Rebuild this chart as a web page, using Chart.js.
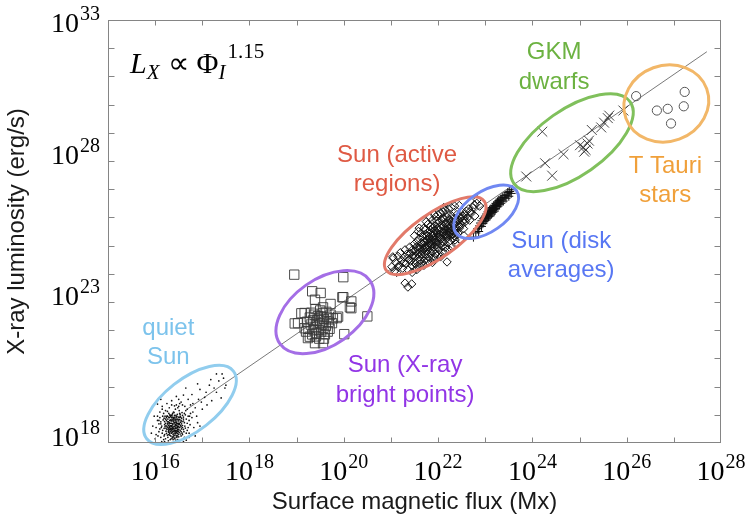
<!DOCTYPE html>
<html>
<head>
<meta charset="utf-8">
<script src="https://cdn.jsdelivr.net/npm/chart.js@4.4.1/dist/chart.umd.min.js"></script>
<style>
  html, body { margin: 0; padding: 0; background: #fff; }
  #wrap { width: 752px; height: 522px; }
</style>
</head>
<body>
<div id="wrap"><canvas id="c" width="752" height="522"></canvas></div>
<script>
// All values are log10: [log10 flux (Mx), log10 Lx (erg/s)]
const quietSun = [
  [16.41,18.72],[16.35,18.60],[16.48,18.85],[16.29,18.44],[16.52,18.55],[16.38,18.91],[16.44,18.33],[16.22,18.70],
  [16.60,18.78],[16.33,18.25],[16.47,19.02],[16.26,18.95],[16.55,18.40],[16.40,18.50],[16.31,18.80],[16.58,18.98],
  [16.19,18.52],[16.45,18.63],[16.36,18.38],[16.50,18.70],[16.28,18.62],[16.42,18.86],[16.34,18.15],[16.63,18.60],
  [16.24,18.34],[16.46,18.20],[16.39,19.10],[16.56,18.88],[16.17,18.82],[16.30,18.55],[16.43,18.45],[16.51,19.15],
  [16.27,18.20],[16.66,18.85],[16.37,18.68],[16.21,18.95],[16.49,18.30],[16.32,18.98],[16.60,18.48],[16.14,18.60],
  [16.40,18.27],[16.54,18.74],[16.25,18.48],[16.45,18.92],[16.35,18.80],[16.62,19.05],[16.20,18.30],[16.47,18.58],
  [16.29,19.05],[16.57,18.35],[16.38,18.12],[16.43,19.20],[16.23,18.62],[16.68,18.70],[16.33,18.70],[16.50,18.48],
  [16.16,18.45],[16.41,18.98],[16.28,18.75],[16.53,18.95],[16.36,18.52],[16.46,18.78],[16.19,18.88],[16.58,18.62],
  [16.31,18.35],[16.44,18.10],[16.70,18.95],[16.26,19.12],[16.48,19.25],[16.12,18.75],[16.39,18.42],[16.55,18.25],
  [16.34,18.90],[16.61,18.40],[16.22,18.15],[16.42,18.60],[16.30,18.68],[16.52,18.83],[16.37,19.05],[16.15,18.35],
  [16.64,18.53],[16.27,18.55],[16.45,18.38],[16.40,18.82],[16.57,19.08],[16.24,18.80],[16.49,18.65],[16.33,18.48],
  [16.18,19.05],[16.72,18.80],[16.36,18.22],[16.46,18.52],[16.29,18.30],[16.54,18.62],[16.41,19.32],[16.21,18.58],
  [16.60,18.92],[16.35,18.98],[16.47,18.42],[16.10,18.90],[16.39,18.75],[16.56,18.50],[16.26,18.68],[16.44,18.72],
  [16.32,18.12],[16.65,19.15],[16.23,18.42],[16.50,18.22],[16.38,18.58],[16.13,18.55],[16.53,19.02],[16.30,18.90],
  [16.43,18.52],[16.62,18.72],[16.20,18.76],[16.48,18.12],[16.36,18.85],[16.58,18.30],[16.25,18.95],[16.42,18.40],
  [16.08,18.68],[16.75,19.05],[16.34,18.58],[16.51,18.90],[16.28,18.08],[16.46,18.68],[16.19,18.25],
  [16.37,18.64],[16.43,18.78],[16.31,18.58],[16.49,18.82],[16.40,18.35],[16.34,18.45],[16.46,18.95],[16.27,18.85],
  [16.52,18.66],[16.38,18.30],[16.44,18.55],[16.30,18.72],[16.55,18.80],[16.36,19.00],[16.42,18.18],[16.25,18.58],
  [16.48,18.48],[16.33,18.82],[16.58,18.55],[16.39,18.88],[16.45,18.25],[16.28,18.40],[16.51,18.38],[16.35,18.70],
  [16.41,18.45],[16.22,18.85],[16.47,18.70],[16.32,18.52],[16.54,18.92],[16.37,18.18],[16.43,18.65],[16.29,18.92],
  [16.50,18.58],[16.40,19.08],[16.26,18.28],[16.45,18.85],[16.34,18.62],[16.56,18.68],[16.39,18.52],[16.31,19.00],
  [16.48,18.35],[16.36,18.42],[16.44,18.98],[16.23,18.52],[16.53,18.45],[16.38,18.78],[16.42,18.28],[16.30,18.48],
  [16.49,18.92],[16.35,18.35],[16.46,18.62],[16.27,18.68],[16.41,18.15],[16.57,18.76],[16.33,18.95],[16.44,18.42],
  [16.37,18.55],[16.52,19.05],[16.24,18.90],[16.40,18.68],[16.47,18.25],[16.30,18.60],[16.55,18.58],[16.36,18.92],
  [16.43,18.35],[16.28,18.50],[16.50,18.78],[16.39,18.22],[16.45,18.72],[16.32,18.40],[16.60,18.85],[16.20,18.65],
  [16.42,18.92],[16.35,18.50],[16.48,18.55],[16.26,18.75],[16.53,18.32],[16.38,18.82],[16.44,18.62],[16.31,18.28],
  [16.41,18.58],[16.46,18.45],[16.34,18.78],[16.51,18.70],[16.29,18.38],[16.40,18.90],[16.37,18.48],[16.43,18.82],
  [16.33,18.62],[16.49,18.42],
  [16.02,18.55],[16.08,18.40],[16.10,19.10],[16.05,18.95],[16.12,18.20],[16.15,19.20],[16.18,18.12],[16.62,18.20],
  [16.66,18.35],[16.70,18.55],[16.74,18.65],[16.68,19.20],[16.63,19.30],[16.58,19.35],[16.52,19.40],[16.45,19.35],
  [16.30,19.25],[16.22,19.15],[16.10,18.50],[16.06,18.25],[16.78,18.90],[16.80,19.10],[16.14,18.05],[16.55,18.10],
  [16.60,18.05],[16.66,18.10],[16.72,18.20],[16.08,18.80],[16.20,18.05],[16.35,19.35],[16.50,19.30],[16.64,19.00],
  [16.16,18.95],[16.12,18.68],[16.68,18.45],[16.73,18.95],
  [16.05,19.38],[15.98,18.95],[16.02,18.30],[15.95,18.60],[16.85,19.25],[16.92,19.55],[16.80,19.40],[17.05,19.62],
  [17.15,20.05],[17.30,19.80],[16.95,19.90],[17.45,20.30],[17.20,19.50],[16.70,19.55],[16.60,19.70],[16.88,18.95],
  [17.00,19.20],[17.35,20.20],[17.50,20.05],[17.10,19.35],[16.78,19.72],[16.50,19.55],[16.35,19.50],[16.15,19.30],
  [16.82,18.55],[16.90,18.72],[17.25,19.95],[17.40,19.60],[16.98,19.45],[17.42,20.45],[16.72,18.35],[16.85,18.25],
  [16.00,18.15],[15.92,18.35],[16.12,19.55],[16.65,19.95],[16.90,20.10],[17.18,20.25],[17.48,19.95],[16.55,19.45],
  [16.75,19.35],[17.08,19.80],[16.05,18.80],[16.95,18.60],[17.30,20.45],[16.45,19.65],[16.25,19.40]
];

const brightPoints = [
  [18.95,23.97],[19.99,23.88],[19.33,23.38],[19.51,23.32],[19.99,23.17],[20.16,23.02],[20.13,22.81],[19.39,23.08],
  [19.72,22.93],[19.56,22.81],[19.17,22.61],[20.50,22.49],[19.85,22.43],[19.03,22.25],[20.01,21.86],[19.24,21.72],
  [19.39,21.54],[19.56,21.54],[18.96,22.24],[19.10,22.60],[19.17,22.07],[19.28,21.77],[19.77,22.42],[19.88,22.48],
  [20.16,22.78],[19.97,23.17],
  [19.49,22.25],[19.40,22.10],[19.58,22.40],[19.35,22.35],[19.62,22.15],[19.45,22.50],[19.52,21.95],[19.30,22.20],
  [19.68,22.30],[19.42,21.90],[19.55,22.60],[19.38,22.55],[19.60,21.85],[19.25,22.05],[19.72,22.55],[19.47,22.00],
  [19.33,21.85],[19.65,22.45],[19.50,22.70],[19.28,22.45],[19.57,22.08],[19.44,22.35],[19.36,22.00],[19.70,22.05],
  [19.52,22.48],[19.22,22.30],[19.63,22.65],[19.41,21.78],[19.54,22.20],[19.31,22.62],[19.48,21.70],[19.75,22.25],
  [19.20,21.95],[19.58,21.70],[19.40,22.75],[19.66,21.95]
];

const activeRegions = [
  [21.02,24.25],[21.05,24.55],[21.08,24.10],[21.10,24.40],[21.12,24.05],[21.15,24.62],[21.18,24.30],[21.20,24.75],
  [21.22,24.48],[21.25,24.20],[21.28,24.60],[21.30,24.85],[21.32,24.35],[21.34,24.70],[21.36,24.15],[21.38,24.50],
  [21.40,24.95],[21.42,24.72],[21.44,24.30],[21.46,24.85],[21.47,24.58],[21.49,25.05],[21.50,24.40],[21.52,24.80],
  [21.53,24.62],[21.55,25.15],[21.56,24.28],[21.57,24.95],[21.58,24.70],[21.60,25.25],[21.61,24.50],[21.62,24.98],
  [21.63,24.35],[21.65,25.10],[21.66,24.80],[21.67,24.60],[21.68,25.30],[21.69,24.88],[21.70,24.45],[21.71,25.12],
  [21.72,24.70],[21.73,25.40],[21.74,24.95],[21.75,24.55],[21.76,25.20],[21.77,24.82],[21.78,25.45],[21.79,25.02],
  [21.80,24.60],[21.81,25.30],[21.82,24.90],[21.83,25.55],[21.84,25.15],[21.85,24.72],[21.86,25.38],[21.87,25.00],
  [21.88,25.60],[21.89,24.80],[21.90,25.25],[21.91,25.45],[21.92,24.95],[21.93,25.70],[21.94,25.12],[21.95,24.70],
  [21.96,25.50],[21.97,25.30],[21.98,24.95],[21.99,25.78],[22.00,25.15],[22.01,25.55],[22.02,24.85],[22.03,25.40],
  [22.04,25.85],[22.05,25.05],[22.06,25.62],[22.07,25.25],[22.08,25.90],[22.09,24.98],[22.10,25.48],[22.11,25.70],
  [22.12,25.12],[22.13,25.95],[22.14,25.35],[22.15,25.60],[22.16,24.95],[22.17,25.80],[22.18,25.25],[22.19,26.00],
  [22.20,25.50],[22.21,25.10],[22.22,25.72],[22.23,25.38],[22.24,25.92],[22.25,25.60],[22.26,25.18],[22.27,25.85],
  [22.28,25.40],[22.29,26.05],[22.30,25.65],[22.31,25.28],[22.32,25.95],[22.33,25.52],[22.34,25.78],[22.35,25.35],
  [22.37,25.95],[22.38,25.60],[22.40,26.10],[22.41,25.75],[22.42,25.45],[22.44,25.90],[22.45,25.62],[22.47,26.05],
  [22.49,25.75],[22.50,26.20],[22.52,25.88],[22.54,25.60],[22.56,26.10],[22.58,25.85],[22.60,26.22],[22.62,25.98],
  [22.65,26.30],[22.67,25.90],[22.70,26.15],[22.74,26.35],[22.78,26.05],[22.82,26.50],[22.88,26.40],
  [22.68,26.21],[22.77,26.45],[22.83,26.63],[22.57,25.92],[22.46,25.68],[22.39,25.38],[22.36,25.20],
  [21.30,23.67],[21.44,23.64],[21.36,23.53],[22.19,24.42],[21.04,24.60],[21.15,24.24],
  [21.50,25.35],[21.58,25.50],[21.64,25.45],[21.70,25.62],[21.78,25.75],[21.83,26.00],[21.88,25.90],[21.95,26.02],
  [22.00,26.10],[22.05,26.15],[22.10,26.20],[22.15,26.25],[22.22,26.30],[22.28,26.35],[22.35,26.40],[22.45,26.42],
  [21.60,25.62],[21.75,25.85],[21.92,26.10],[22.12,26.35],
  [21.45,24.05],[21.55,24.15],[21.62,24.25],[21.70,24.30],[21.78,24.45],[21.85,24.55],[21.92,24.60],[22.00,24.68],
  [22.08,24.75],[22.15,24.80],[22.22,24.88],[22.30,24.95],[22.38,25.05],[22.48,25.20],[22.55,25.35],[21.52,24.35],
  [21.88,24.40],[22.05,24.60],
  [21.62,24.90],[21.66,25.05],[21.70,24.85],[21.74,25.15],[21.78,24.95],[21.82,25.25],[21.86,25.05],[21.90,25.35],
  [21.94,25.20],[21.98,25.45],[22.02,25.30],[22.06,25.50],[22.10,25.30],[22.14,25.55],[22.18,25.40],[22.22,25.62],
  [22.26,25.48],[22.30,25.78],[22.34,25.60],[21.64,24.70],[21.72,24.92],[21.80,25.10],[21.88,25.18],[21.96,25.12],
  [22.04,25.40],[22.12,25.45],[22.20,25.30],[22.28,25.55],[21.68,25.15],[21.76,25.35],[21.84,25.45],[21.92,25.55],
  [22.00,25.62],[22.08,25.72],[22.16,25.80],[22.24,25.75],[21.58,24.85],[21.54,24.95],[21.46,24.65],[21.42,24.45],
  [21.50,24.62],[21.60,24.60],[21.35,24.55],[21.27,24.40],[22.32,25.42],[22.40,25.85],[22.44,25.72],[22.48,25.98],
  [22.52,26.05],[21.86,24.88],[21.98,25.02],[22.10,25.15],[22.22,25.45],[21.72,25.55],[21.85,25.70],[21.97,25.88],
  [22.09,25.98],[22.20,26.12]
];

const diskAverages = [
  [22.75,25.30],[22.80,25.45],[22.84,25.60],[22.86,25.50],[22.88,25.70],[22.90,25.80],[22.92,25.68],[22.93,25.88],
  [22.95,25.78],[22.96,25.95],[22.97,25.85],[22.99,26.00],[23.00,25.90],[23.01,26.05],[23.02,25.95],[23.03,26.12],
  [23.04,25.98],[23.05,26.08],[23.06,26.20],[23.07,26.02],[23.08,26.15],[23.09,26.25],[23.10,26.05],[23.11,26.20],
  [23.12,26.30],[23.13,26.12],[23.14,26.25],[23.15,26.35],[23.16,26.18],[23.17,26.28],[23.18,26.40],[23.19,26.22],
  [23.20,26.32],[23.21,26.42],[23.22,26.30],[23.23,26.50],[23.24,26.38],[23.25,26.45],[23.26,26.55],[23.27,26.40],
  [23.28,26.52],[23.29,26.60],[23.30,26.45],[23.31,26.55],[23.32,26.65],[23.33,26.50],[23.35,26.62],[23.36,26.72],
  [23.38,26.58],[23.40,26.70],[23.42,26.78],[23.44,26.68],[23.46,26.80],[23.48,26.88],[23.50,26.75],[23.52,26.92],
  [23.55,26.85],[23.56,26.98]
];

const gkmDwarfs = [
  [24.21,29.04],[23.87,27.45],[24.27,27.92],[24.42,27.48],[24.66,28.24],[25.01,28.56],[25.08,28.49],[25.13,28.39],
  [25.17,28.62],[25.20,28.72],[25.10,28.33],[25.26,29.10],[25.46,29.19],[25.52,29.36],[25.60,29.52],[25.63,29.61],
  [25.93,29.79]
];

const tTauri = [
  [26.20,30.30],[26.64,29.79],[26.87,29.85],[26.94,29.33],[27.21,29.94],[27.23,30.45]
];

// Power-law fit: log Lx = 1.15 log Phi + c
const fitSlope = 1.15;
const fitOffset = 0.02;
const fitRange = [16.7, 27.7];

// Axis extents and tick exponents
const xExpRange = [15, 28];
const yExpRange = [18, 33];
const xLabelExps = [16, 18, 20, 22, 24, 26, 28];
const yLabelExps = [18, 23, 28, 33];

// Group outlines and captions (anchors in log10 data units)
const groups = [
  { lines: ['quiet', 'Sun'],            text: [16.28, 21.83], ring: [16.74, 19.35], rx: 55, ry: 26, rot: -38, color: '#7cc3ec', ringColor: '#91cdee' },
  { lines: ['Sun (X-ray', 'bright points)'], text: [21.30, 20.51], ring: [19.60, 22.64], rx: 55, ry: 33, rot: -35, color: '#9235e6', ringColor: '#a46ee6' },
  { lines: ['Sun (active', 'regions)'], text: [21.13, 27.98], ring: [21.94, 25.35], rx: 60, ry: 22, rot: -35, color: '#df5a44', ringColor: '#e27a6a' },
  { lines: ['Sun (disk', 'averages)'],  text: [24.61, 24.92], ring: [23.02, 26.20], rx: 37, ry: 20, rot: -35, color: '#5877f3', ringColor: '#7088f2' },
  { lines: ['GKM', 'dwarfs'],           text: [24.46, 31.60], ring: [24.84, 28.65], rx: 71, ry: 33, rot: -35, color: '#6cb241', ringColor: '#80c05c' },
  { lines: ['T Tauri', 'stars'],        text: [26.82, 27.59], ring: [26.84, 30.04], rx: 43, ry: 38, rot: -20, color: '#f0a03a', ringColor: '#f2b768' }
];

const pts = arr => arr.map(([a, b]) => ({ x: Math.pow(10, a), y: Math.pow(10, b) }));
const fitPts = fitRange.map(a => ({ x: Math.pow(10, a), y: Math.pow(10, fitSlope * a + fitOffset) }));

const SERIF = '"Liberation Serif", "Times New Roman", serif';
const SANS = '"Liberation Sans", Arial, Helvetica, sans-serif';

function drawPower(ctx, x, y, exp, align) {
  const baseFont = '28px ' + SERIF, supFont = '20px ' + SERIF;
  ctx.font = baseFont; const wb = ctx.measureText('10').width;
  ctx.font = supFont; const ws = ctx.measureText(String(exp)).width;
  const total = wb + 1 + ws;
  const x0 = align === 'center' ? x - total / 2 : x - total;
  ctx.textAlign = 'left';
  ctx.textBaseline = 'alphabetic';
  ctx.font = baseFont; ctx.fillText('10', x0, y);
  ctx.font = supFont; ctx.fillText(String(exp), x0 + wb + 1, y - 12);
}

const framePlugin = {
  id: 'frameAndLabels',
  afterDatasetsDraw(chart) {
    const ctx = chart.ctx, xs = chart.scales.x, ys = chart.scales.y;
    const { left, right, top, bottom } = chart.chartArea;
    ctx.save();
    // group outlines
    groups.forEach(g => {
      const cx = xs.getPixelForValue(Math.pow(10, g.ring[0]));
      const cy = ys.getPixelForValue(Math.pow(10, g.ring[1]));
      ctx.beginPath();
      ctx.ellipse(cx, cy, g.rx, g.ry, g.rot * Math.PI / 180, 0, Math.PI * 2);
      ctx.strokeStyle = g.ringColor;
      ctx.lineWidth = 3;
      ctx.stroke();
    });
    // frame
    const L = Math.round(left) + 0.5, R = Math.round(right) - 0.5, T = Math.round(top) + 0.5, B = Math.round(bottom) - 0.5;
    ctx.strokeStyle = '#858585';
    ctx.lineWidth = 1;
    ctx.strokeRect(L, T, R - L, B - T);
    // inward ticks, one per decade
    ctx.beginPath();
    for (let e = xExpRange[0] + 1; e < xExpRange[1]; e++) {
      const px = Math.round(xs.getPixelForValue(Math.pow(10, e))) + 0.5;
      ctx.moveTo(px, B); ctx.lineTo(px, B - 5);
      ctx.moveTo(px, T); ctx.lineTo(px, T + 5);
    }
    for (let e = yExpRange[0] + 1; e < yExpRange[1]; e++) {
      const py = Math.round(ys.getPixelForValue(Math.pow(10, e))) + 0.5;
      ctx.moveTo(L, py); ctx.lineTo(L + 6, py);
      ctx.moveTo(R, py); ctx.lineTo(R - 6, py);
    }
    ctx.stroke();
    // tick labels
    ctx.fillStyle = '#000';
    xLabelExps.forEach(e => {
      drawPower(ctx, xs.getPixelForValue(Math.pow(10, e)), bottom + 37, e, 'center');
    });
    yLabelExps.forEach(e => {
      const py = ys.getPixelForValue(Math.pow(10, e));
      drawPower(ctx, left - 8, Math.max(py + 3, top + 12), e, 'right');
    });
    // group captions
    ctx.font = '24px ' + SANS;
    ctx.textAlign = 'center';
    ctx.textBaseline = 'alphabetic';
    groups.forEach(g => {
      const tx = xs.getPixelForValue(Math.pow(10, g.text[0]));
      const ty = ys.getPixelForValue(Math.pow(10, g.text[1]));
      ctx.fillStyle = g.color;
      g.lines.forEach((s, i) => ctx.fillText(s, tx, ty + i * 29.5));
    });
    // scaling relation
    let fx = left + 22, fy = top + 53;
    ctx.textAlign = 'left';
    ctx.fillStyle = '#000';
    const seg = (txt, font, dy, gap) => {
      ctx.font = font; ctx.fillText(txt, fx, fy + dy);
      fx += ctx.measureText(txt).width + (gap || 0);
    };
    seg('L', 'italic 30px ' + SERIF, 0, 0);
    seg('X', 'italic 21px ' + SERIF, 6, 8);
    seg('\u221D', '30px ' + SERIF, 0, 8);
    seg('\u03A6', '30px ' + SERIF, 0, 0);
    ctx.font = 'italic 21px ' + SERIF;
    ctx.fillText('I', fx, fy + 6);
    fx += ctx.measureText('I').width + 2;
    seg('1.15', '21px ' + SERIF, -15, 0);
    ctx.restore();
  }
};

const scatterSet = (data, style, radius, extra) => Object.assign({
  type: 'scatter', data: pts(data), pointStyle: style, pointRadius: radius,
  pointHoverRadius: radius, backgroundColor: 'rgba(0,0,0,0)', borderColor: '#2a2a2a', borderWidth: 0.8
}, extra || {});

new Chart(document.getElementById('c'), {
  type: 'scatter',
  data: {
    datasets: [
      { type: 'scatter', data: fitPts, showLine: true, pointRadius: 0, borderColor: '#6a6a6a', borderWidth: 0.9, order: 10 },
      scatterSet(quietSun, 'circle', 0.85, { backgroundColor: '#111', borderWidth: 0 }),
      scatterSet(brightPoints, 'rect', 6.6, { borderColor: '#3a3a3a', borderWidth: 0.9 }),
      scatterSet(activeRegions, 'rectRot', 4.2, { borderColor: '#141414', borderWidth: 1 }),
      scatterSet(diskAverages, 'cross', 4.5, { borderColor: '#111', borderWidth: 1 }),
      scatterSet(gkmDwarfs, 'crossRot', 7, { borderColor: '#333', borderWidth: 0.9 }),
      scatterSet(tTauri, 'circle', 4.6, { borderColor: '#555', borderWidth: 1 })
    ]
  },
  options: {
    responsive: false,
    devicePixelRatio: 1,
    animation: false,
    events: [],
    layout: { padding: { top: 20, right: 31, bottom: 0, left: 0 } },
    plugins: { legend: { display: false }, tooltip: { enabled: false } },
    scales: {
      x: {
        type: 'logarithmic',
        min: Math.pow(10, xExpRange[0]), max: Math.pow(10, xExpRange[1]),
        grid: { display: false }, border: { display: false },
        ticks: { display: false },
        title: { display: true, text: 'Surface magnetic flux (Mx)', color: '#1a1a1a',
                 font: { family: SANS, size: 24 }, padding: { top: 0, bottom: 5 } },
        afterFit: s => { s.height = 79; }
      },
      y: {
        type: 'logarithmic',
        min: Math.pow(10, yExpRange[0]), max: Math.pow(10, yExpRange[1]),
        grid: { display: false }, border: { display: false },
        ticks: { display: false },
        title: { display: true, text: 'X-ray luminosity (erg/s)', color: '#1a1a1a',
                 font: { family: SANS, size: 24 }, padding: { top: 3, bottom: 0 } },
        afterFit: s => { s.width = 108; }
      }
    }
  },
  plugins: [framePlugin]
});
</script>
</body>
</html>
